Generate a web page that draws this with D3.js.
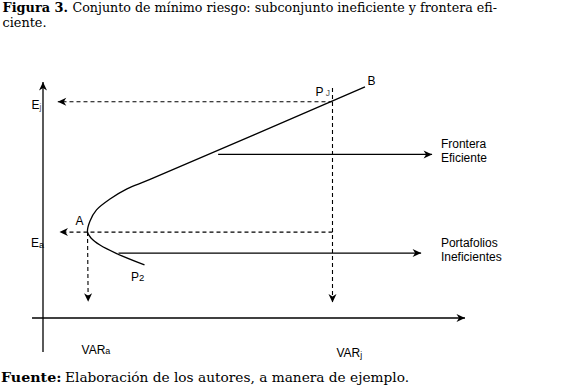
<!DOCTYPE html>
<html><head><meta charset="utf-8">
<script src="https://cdn.jsdelivr.net/npm/d3@7"></script>
<style>
html,body{margin:0;padding:0;background:#fff;}
svg{display:block;}
</style></head>
<body>
<script>
// ---- data (conceptual units: VAR on x, E on y) ----
const frontier = [ // lower branch end -> vertex A -> upper branch -> B
  [24.05, 22.5], [17.46, 27.3], [13.5, 30.9], [11.37, 33.9], [10.55, 36.4],
  [11.14, 41.1], [12.68, 45.8], [15.88, 50.4], [19.9, 54.7], [25.36, 58.7], [76.3, 97.9]
];
const pointA = [10.55, 36.4];
const pointPJ = [68.6, 91.6];
const pointB = [76.3, 97.9];
const pointP2 = [24.05, 22.5];
const xAxisExtent = [-2.6, 100];
const yAxisExtent = [-14.4, 100];
const dashedEndX = 3.5;      // dashed arrows toward E axis end here
const dashedEndY = 6.6;      // dashed arrows toward VAR axis end here
const pjTopY = 97.5;
const labelColumnX = 94.3;
const solidArrows = [
  {from: [41.5, 69.3], to: [92.2, 69.3], label: ["Frontera", "Eficiente"]},
  {from: [17.9, 27.5], to: [89.6, 27.5], label: ["Portafolios", "Ineficientes"]}
];
const titleBold = "Figura 3.";
const titleRest = "Conjunto de mínimo riesgo: subconjunto ineficiente y frontera efi-";
const titleLine2 = "ciente.";
const sourceBold = "Fuente:";
const sourceRest = "Elaboración de los autores, a manera de ejemplo.";

const W = 562, H = 389;
const svg = d3.select("body").append("svg").attr("width", W).attr("height", H);
const x = d3.scaleLinear().domain([0, 100]).range([43, 465]);
const y = d3.scaleLinear().domain([0, 100]).range([318, 82]);

const defs = svg.append("defs");
defs.append("marker").attr("id", "ah")
  .attr("viewBox", "-9 -5 10 10").attr("refX", 0).attr("refY", 0)
  .attr("markerWidth", 10).attr("markerHeight", 10)
  .attr("markerUnits", "userSpaceOnUse").attr("orient", "auto")
  .append("path").attr("d", "M0,0 L-8.5,-4 L-6,0 L-8.5,4 Z").attr("fill", "#000");

const serif = "'DejaVu Serif', serif";
const sans = "'Liberation Sans', Arial, sans-serif";

function txt(str, px, py, opts) {
  const t = svg.append("text").attr("x", px).attr("y", py).text(str)
    .attr("font-family", opts.family).attr("font-size", opts.size)
    .attr("font-weight", opts.weight || "normal").attr("fill", "#000");
  if (opts.len) t.attr("textLength", opts.len).attr("lengthAdjust", "spacingAndGlyphs");
  return t;
}
txt(titleBold, 2.5, 12, {family: serif, size: 13, weight: "bold", len: 65.5});
txt(titleRest, 72.5, 12, {family: serif, size: 13, len: 424.5});
txt(titleLine2, 2.5, 27, {family: serif, size: 13, len: 44});
txt(sourceBold, 1, 382, {family: serif, size: 13, weight: "bold", len: 60.5});
txt(sourceRest, 65, 382, {family: serif, size: 13, len: 344});

const line = d3.line().x(d => x(d[0])).y(d => y(d[1]));

// axes
svg.append("path").attr("d", line([[0, yAxisExtent[0]], [0, yAxisExtent[1]]]))
  .attr("stroke", "#000").attr("stroke-width", 1.3).attr("fill", "none").attr("marker-end", "url(#ah)");
svg.append("path").attr("d", line([[xAxisExtent[0], 0], [xAxisExtent[1], 0]]))
  .attr("stroke", "#000").attr("stroke-width", 1.3).attr("fill", "none").attr("marker-end", "url(#ah)");

// frontier curve
svg.append("path").attr("d", d3.line().x(d => x(d[0])).y(d => y(d[1])).curve(d3.curveCatmullRom.alpha(0.5))(frontier))
  .attr("stroke", "#000").attr("stroke-width", 1.3).attr("fill", "none");

// dashed guides
const dash = "4,3";
function dashed(pts, arrow) {
  const p = svg.append("path").attr("d", line(pts)).attr("stroke", "#000").attr("stroke-width", 1.1)
    .attr("stroke-dasharray", dash).attr("fill", "none");
  if (arrow) p.attr("marker-end", "url(#ah)");
}
dashed([pointPJ, [dashedEndX, pointPJ[1]]], true);
dashed([[pointPJ[0], pjTopY], [pointPJ[0], dashedEndY]], true);
dashed([[pointPJ[0], pointA[1]], [dashedEndX + 0.4, pointA[1]]], true);
dashed([pointA, [pointA[0] + 0.15, dashedEndY + 0.3]], true);

// solid arrows + labels
solidArrows.forEach(a => {
  svg.append("path").attr("d", line([a.from, a.to])).attr("stroke", "#000").attr("stroke-width", 1.3)
    .attr("fill", "none").attr("marker-end", "url(#ah)");
  const lx = x(labelColumnX), ly = y(a.to[1]);
  txt(a.label[0], lx, ly - 6.5, {family: sans, size: 12});
  txt(a.label[1], lx, ly + 7.5, {family: sans, size: 12});
});

// point labels with subscripts
function sublabel(main, sub, px, py, subDy, subSize, subFill) {
  const t = svg.append("text").attr("x", px).attr("y", py)
    .attr("font-family", sans).attr("font-size", 12).attr("fill", "#000");
  t.append("tspan").text(main);
  if (sub) t.append("tspan").text(sub).attr("font-size", subSize).attr("dy", subDy).attr("fill", subFill || "#000");
  return t;
}
sublabel("E", "j", 31.5, y(pointPJ[1]) + 7.5, 1, 8.5, "#555");
sublabel("E", "a", 31, y(pointA[1]) + 15, 0.5, 9);
sublabel("A", null, x(pointA[0]) - 12, y(pointA[1]) - 7.5);
sublabel("P", "2", x(pointP2[0]) - 13.5, y(pointP2[1]) + 16, 0.5, 9.5);
sublabel("P", " J", x(pointPJ[0]) - 17, y(pointPJ[1]) - 6, 0, 8.5, "#555");
sublabel("B", null, x(pointB[0]) + 2.5, y(pointB[1]) - 2);
sublabel("VAR", "a", x(pointA[0]) - 6, 354, 0, 9);
sublabel("VAR", "j", x(pointPJ[0]) + 4, 357, 1, 8.5);
</script>
</body></html>
